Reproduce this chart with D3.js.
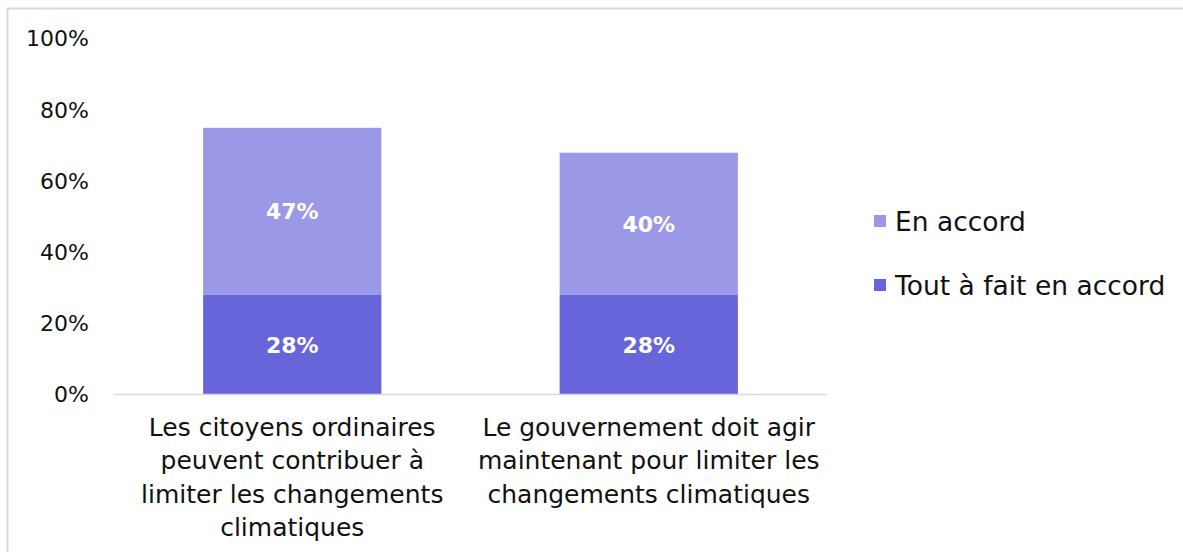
<!DOCTYPE html>
<html>
<head>
<meta charset="utf-8">
<script src="https://cdn.jsdelivr.net/npm/d3@7"></script>
<style>
  html, body { margin: 0; padding: 0; background: #fff; }
  svg text { font-family: "DejaVu Sans", sans-serif; }
</style>
</head>
<body>
<svg id="chart" width="1183" height="552"></svg>
<script>
// Survey data: share agreeing with each statement
const categories = [
  ["Les citoyens ordinaires", "peuvent contribuer à", "limiter les changements", "climatiques"],
  ["Le gouvernement doit agir", "maintenant pour limiter les", "changements climatiques"]
];
const seriesNames = ["Tout à fait en accord", "En accord"];
const toutAFait = [28, 28];
const enAccord = [47, 40];
const yTicks = [0, 20, 40, 60, 80, 100];

const colors = { "Tout à fait en accord": "#6865da", "En accord": "#9b98e8" };

const svg = d3.select("#chart");

// Outer chart frame
svg.append("rect")
  .attr("x", 7.5).attr("y", 8.5)
  .attr("width", 1200).attr("height", 600)
  .attr("fill", "none").attr("stroke", "#d9d9d9").attr("stroke-width", 2);

const plot = { left: 114, right: 827, top: 38.9, bottom: 394.5 };

const x = d3.scaleBand()
  .domain(d3.range(categories.length))
  .range([plot.left, plot.right])
  .paddingInner(0.5)
  .paddingOuter(0.25);

const y = d3.scaleLinear().domain([0, 100]).range([plot.bottom, plot.top]);

// Stack the two series
const rows = categories.map((c, i) => ({
  i,
  "Tout à fait en accord": toutAFait[i],
  "En accord": enAccord[i]
}));
const stacked = d3.stack().keys(seriesNames)(rows);

const layers = svg.append("g").selectAll("g")
  .data(stacked).join("g")
  .attr("fill", d => colors[d.key]);

layers.selectAll("rect")
  .data(d => d).join("rect")
  .attr("x", d => x(d.data.i))
  .attr("width", x.bandwidth())
  .attr("y", d => y(d[1]))
  .attr("height", d => y(d[0]) - y(d[1]));

// Value labels inside segments
layers.selectAll("text")
  .data(d => d.map(s => ({ s, key: d.key }))).join("text")
  .attr("x", d => x(d.s.data.i) + x.bandwidth() / 2)
  .attr("y", d => (y(d.s[0]) + y(d.s[1])) / 2)
  .attr("dy", "0.36em")
  .attr("text-anchor", "middle")
  .attr("fill", "#fff")
  .attr("font-weight", "bold")
  .attr("font-size", 22)
  .text(d => (d.s[1] - d.s[0]) + "%");

// Y axis labels (no axis line)
const yAxis = svg.append("g")
  .attr("transform", `translate(${plot.left - 25},0)`)
  .call(d3.axisLeft(y).tickValues(yTicks).tickFormat(d => d + "%").tickSize(0).tickPadding(0));
yAxis.select(".domain").remove();
yAxis.selectAll("text")
  .attr("font-size", 22)
  .attr("fill", "#111")
  .attr("font-family", "DejaVu Sans, sans-serif");

// X baseline
svg.append("line")
  .attr("x1", plot.left).attr("x2", plot.right)
  .attr("y1", plot.bottom).attr("y2", plot.bottom)
  .attr("stroke", "#d9d9d9").attr("stroke-width", 1.5);

// Category labels
const catG = svg.append("g").selectAll("text")
  .data(categories).join("text")
  .attr("x", (d, i) => x(i) + x.bandwidth() / 2)
  .attr("y", 427)
  .attr("text-anchor", "middle")
  .attr("font-size", 25)
  .attr("fill", "#111");
catG.selectAll("tspan")
  .data(d => d).join("tspan")
  .attr("x", function () { return this.parentNode.getAttribute("x"); })
  .attr("dy", (d, j) => j === 0 ? "0.36em" : "33.4")
  .text(d => d);

// Legend
const legendItems = ["En accord", "Tout à fait en accord"];
const legend = svg.append("g").selectAll("g")
  .data(legendItems).join("g")
  .attr("transform", (d, i) => `translate(874, ${221 + i * 64})`);
legend.append("rect")
  .attr("x", 0).attr("y", -6)
  .attr("width", 12).attr("height", 12)
  .attr("fill", d => colors[d]);
legend.append("text")
  .attr("x", 21).attr("y", 0).attr("dy", "0.36em")
  .attr("font-size", 26.5)
  .attr("fill", "#111")
  .text(d => d);
</script>
</body>
</html>
